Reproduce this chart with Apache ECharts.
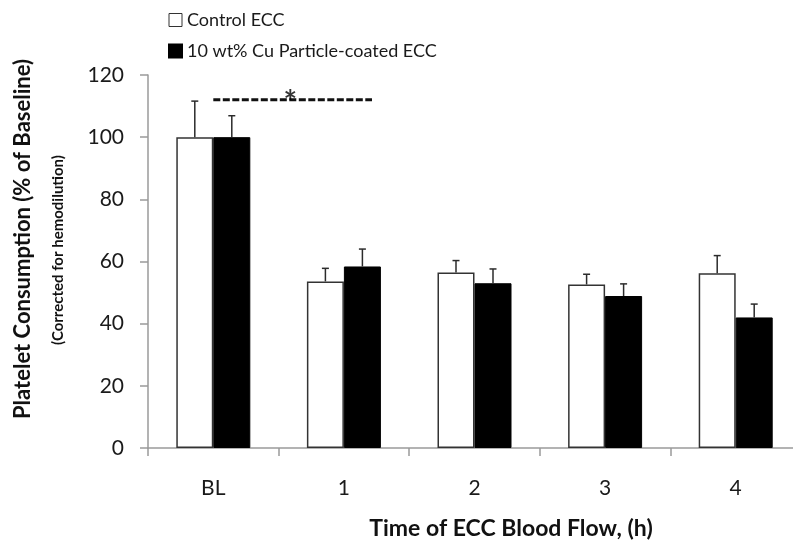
<!DOCTYPE html>
<html>
<head>
<meta charset="utf-8">
<script src="https://cdn.jsdelivr.net/npm/echarts@6/dist/echarts.min.js"></script>
<style>
  html, body { margin: 0; padding: 0; overflow: hidden; background: #fff; }
  #chart { width: 801px; height: 544px; }
</style>
</head>
<body>
<div id="chart"></div>
<script>
// data
const categories = ['BL', '1', '2', '3', '4']
const controlMean = [100, 53.6, 56.5, 52.6, 56.2]
const controlSd = [11.6, 4.2, 3.8, 3.3, 5.7]
const cuMean = [100, 58.4, 53.0, 48.9, 42.0]
const cuSd = [6.9, 5.6, 4.6, 3.9, 4.3]
const yTicks = [0, 20, 40, 60, 80, 100, 120]

// significance bracket (on a hidden value axis spanning the categories)
const sigLine = [[0.5, 112], [1.715, 112]]
const sigStar = [[1.09, 112]]

const FONT = 'Lato, "Open Sans", sans-serif'
const BAR_W = 37

const chart = echarts.init(document.getElementById('chart'))

// 误差线
function errorBar(offset) {
  return function (params, api) {
    const base = api.coord([api.value(0), api.value(1)])
    const top = api.coord([api.value(0), api.value(1) + api.value(2)])
    const cx = base[0] + offset
    const style = { stroke: '#2b2b2b', lineWidth: 1.5 }
    return {
      type: 'group',
      children: [
        { type: 'line', shape: { x1: cx, y1: base[1], x2: cx, y2: top[1] }, style: style },
        { type: 'line', shape: { x1: cx - 3.5, y1: top[1], x2: cx + 3.5, y2: top[1] }, style: style }
      ]
    }
  }
}

const option = {
  backgroundColor: '#fff',
  animation: false,
  textStyle: { fontFamily: FONT },
  grid: { left: 148, right: 0, top: 75, bottom: 96 },
  legend: {
    orient: 'vertical',
    left: 163,
    top: 6,
    icon: 'rect',
    itemWidth: 13,
    itemHeight: 13,
    itemGap: 13,
    textStyle: { fontFamily: FONT, fontSize: 18, color: '#1a1a1a' },
    data: [
      { name: 'Control ECC', itemStyle: { color: '#fff', borderColor: '#333', borderWidth: 1 } },
      { name: '10 wt% Cu Particle-coated ECC', itemStyle: { color: '#000' } }
    ]
  },
  graphic: [
    {
      type: 'text',
      x: 23,
      y: 239,
      rotation: Math.PI / 2,
      style: {
        text: 'Platelet Consumption (% of Baseline)',
        font: 'bold 22px ' + FONT,
        fill: '#111',
        align: 'center',
        verticalAlign: 'middle'
      }
    },
    {
      type: 'text',
      x: 58,
      y: 250,
      rotation: Math.PI / 2,
      style: {
        text: '(Corrected for hemodilution)',
        font: 'bold 15px ' + FONT,
        fill: '#111',
        align: 'center',
        verticalAlign: 'middle'
      }
    },
    {
      type: 'text',
      x: 511,
      y: 529,
      style: {
        text: 'Time of ECC Blood Flow, (h)',
        font: 'bold 23px ' + FONT,
        fill: '#111',
        align: 'center',
        verticalAlign: 'middle'
      }
    }
  ],
  xAxis: [
    {
      type: 'category',
      data: categories,
      axisLine: { lineStyle: { color: '#9a9a9a', width: 1.5 } },
      axisTick: { show: true, length: 8, lineStyle: { color: '#9a9a9a', width: 1.5 } },
      axisLabel: { color: '#1a1a1a', fontSize: 21, fontFamily: FONT, margin: 30 }
    },
    {
      type: 'value',
      min: 0,
      max: 5,
      show: false
    }
  ],
  yAxis: {
    type: 'value',
    min: yTicks[0],
    max: yTicks[yTicks.length - 1],
    interval: 20,
    axisLine: { show: true, lineStyle: { color: '#9a9a9a', width: 1.5 } },
    axisTick: { show: true, length: 8, lineStyle: { color: '#9a9a9a', width: 1.5 } },
    axisLabel: { color: '#1a1a1a', fontSize: 21, fontFamily: FONT, margin: 24 },
    splitLine: { show: false }
  },
  series: [
    {
      name: 'Control ECC',
      type: 'bar',
      data: controlMean,
      barWidth: BAR_W,
      barGap: '0%',
      itemStyle: { color: '#fff', borderColor: '#333', borderWidth: 1.5 }
    },
    {
      name: '10 wt% Cu Particle-coated ECC',
      type: 'bar',
      data: cuMean,
      barWidth: BAR_W,
      barGap: '0%',
      itemStyle: { color: '#000', borderColor: '#000', borderWidth: 1 }
    },
    {
      type: 'custom',
      renderItem: errorBar(-BAR_W / 2),
      data: controlMean.map((v, i) => [i, v, controlSd[i]]),
      z: 5,
      silent: true
    },
    {
      type: 'custom',
      renderItem: errorBar(BAR_W / 2),
      data: cuMean.map((v, i) => [i, v, cuSd[i]]),
      z: 5,
      silent: true
    },
    {
      type: 'line',
      xAxisIndex: 1,
      data: sigLine,
      symbol: 'none',
      lineStyle: { color: '#111', width: 3, type: [7, 2.5] },
      z: 6,
      silent: true
    },
    {
      type: 'scatter',
      xAxisIndex: 1,
      data: sigStar,
      symbolSize: 1,
      itemStyle: { color: 'transparent' },
      label: {
        show: true,
        formatter: '*',
        position: 'inside',
        offset: [0, 4],
        fontSize: 32,
        fontWeight: 'bold',
        fontFamily: FONT,
        color: '#000',
        textBorderWidth: 0
      },
      z: 7,
      silent: true
    }
  ]
}

chart.setOption(option)
</script>
</body>
</html>
